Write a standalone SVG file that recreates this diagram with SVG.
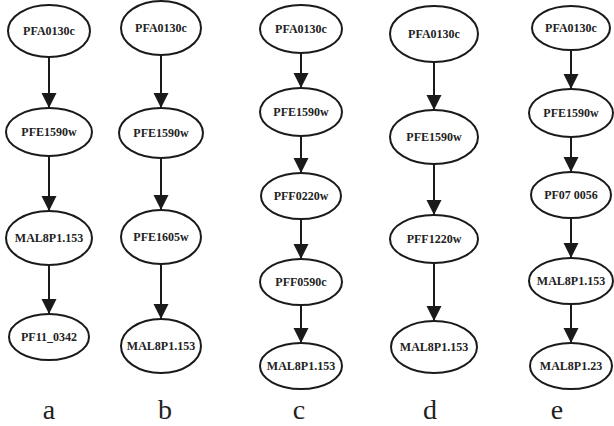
<svg xmlns="http://www.w3.org/2000/svg" width="614" height="426" viewBox="0 0 614 426">
<style>
.n ellipse{fill:#fff;stroke:#1a1a1a;stroke-width:2}
.n text{font-family:"Liberation Serif",serif;font-weight:bold;font-size:12px;fill:#222;text-anchor:middle}
.e path{stroke:#1a1a1a;stroke-width:2;fill:none;marker-end:url(#ah)}
.lbl{font-family:"Liberation Serif",serif;font-size:28px;fill:#222;text-anchor:middle}
</style>
<defs>
<marker id="ah" markerUnits="userSpaceOnUse" markerWidth="16" markerHeight="16" refX="15" refY="7.5" orient="auto">
<path d="M0,0 L15,7.5 L0,15 z" fill="#1a1a1a"/>
</marker>
</defs>
<g class="e" id="edges">
<path d="M49 57 V108"/><path d="M49 156 V211"/><path d="M49 265 V314"/>
<path d="M161 55 V108"/><path d="M161 158 V210"/><path d="M161 264 V319"/>
<path d="M301 53 V88"/><path d="M301 136 V173"/><path d="M301 219 V259"/><path d="M301 305 V343"/>
<path d="M434 62 V110"/><path d="M434 164 V215"/><path d="M434 263 V321"/>
<path d="M571 50 V89"/><path d="M571 137 V172"/><path d="M571 218 V258"/><path d="M571 304 V343"/>
</g>
<g class="n" id="a1"><ellipse cx="49" cy="31" rx="41" ry="26"/><text x="49" y="35">PFA0130c</text></g>
<g class="n" id="a2"><ellipse cx="49" cy="132" rx="43" ry="24"/><text x="49" y="136">PFE1590w</text></g>
<g class="n" id="a3"><ellipse cx="49" cy="238" rx="43" ry="27"/><text x="49" y="242">MAL8P1.153</text></g>
<g class="n" id="a4"><ellipse cx="49" cy="337" rx="40" ry="23"/><text x="49" y="341">PF11_0342</text></g>
<g class="n" id="b1"><ellipse cx="161" cy="28" rx="40" ry="27"/><text x="161" y="32">PFA0130c</text></g>
<g class="n" id="b2"><ellipse cx="161" cy="133" rx="42" ry="25"/><text x="161" y="137">PFE1590w</text></g>
<g class="n" id="b3"><ellipse cx="161" cy="237" rx="40" ry="27"/><text x="161" y="241">PFE1605w</text></g>
<g class="n" id="b4"><ellipse cx="161" cy="346" rx="40" ry="27"/><text x="161" y="350">MAL8P1.153</text></g>
<g class="n" id="c1"><ellipse cx="301" cy="29" rx="41" ry="24"/><text x="301" y="33">PFA0130c</text></g>
<g class="n" id="c2"><ellipse cx="301" cy="112" rx="41" ry="24"/><text x="301" y="116">PFE1590w</text></g>
<g class="n" id="c3"><ellipse cx="301" cy="196" rx="40" ry="23"/><text x="301" y="200">PFF0220w</text></g>
<g class="n" id="c4"><ellipse cx="301" cy="282" rx="41" ry="23"/><text x="301" y="286">PFF0590c</text></g>
<g class="n" id="c5"><ellipse cx="301" cy="366" rx="41" ry="23"/><text x="301" y="370">MAL8P1.153</text></g>
<g class="n" id="d1"><ellipse cx="434" cy="34" rx="44" ry="28"/><text x="434" y="38">PFA0130c</text></g>
<g class="n" id="d2"><ellipse cx="434" cy="137" rx="44" ry="27"/><text x="434" y="141">PFE1590w</text></g>
<g class="n" id="d3"><ellipse cx="434" cy="239" rx="44" ry="24"/><text x="434" y="243">PFF1220w</text></g>
<g class="n" id="d4"><ellipse cx="434" cy="347" rx="43" ry="26"/><text x="434" y="351">MAL8P1.153</text></g>
<g class="n" id="e1"><ellipse cx="571" cy="28" rx="39" ry="22"/><text x="571" y="32">PFA0130c</text></g>
<g class="n" id="e2"><ellipse cx="571" cy="113" rx="42" ry="24"/><text x="571" y="117">PFE1590w</text></g>
<g class="n" id="e3"><ellipse cx="571" cy="195" rx="40" ry="23"/><text x="571" y="199">PF07 0056</text></g>
<g class="n" id="e4"><ellipse cx="571" cy="281" rx="42" ry="23"/><text x="571" y="285">MAL8P1.153</text></g>
<g class="n" id="e5"><ellipse cx="571" cy="366" rx="41" ry="23"/><text x="571" y="370">MAL8P1.23</text></g>
<g id="labels">
<text class="lbl" x="49" y="419">a</text>
<text class="lbl" x="165" y="419">b</text>
<text class="lbl" x="299" y="419">c</text>
<text class="lbl" x="430" y="419">d</text>
<text class="lbl" x="557" y="419">e</text>
</g>
</svg>
